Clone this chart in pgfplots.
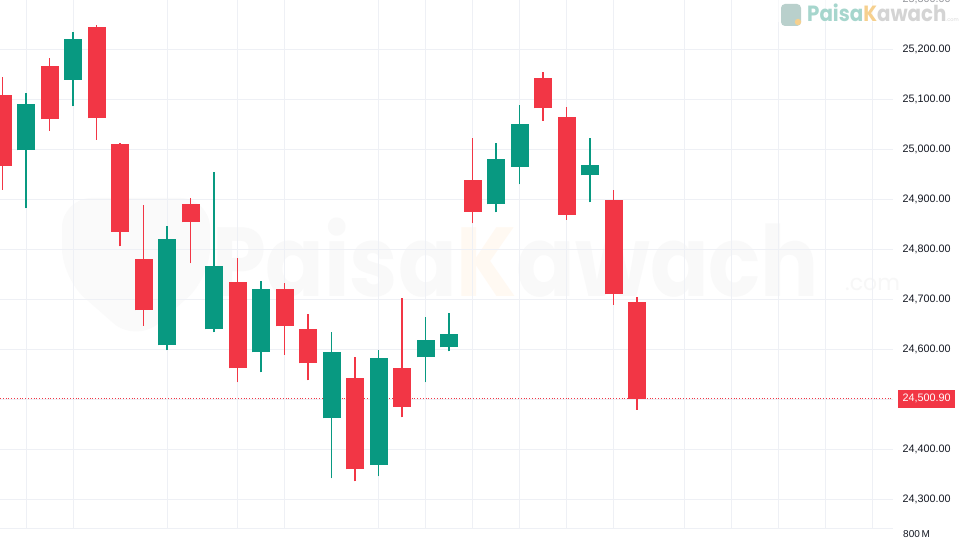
\documentclass[border=0pt]{standalone}
\usepackage{pgfplots}
\pgfplotsset{compat=1.18}
\usepackage{pgfplotstable}
\usepackage{fontspec}
\setmainfont{Liberation Sans}
\newfontfamily\popp{Poppins}
\definecolor{up}{HTML}{089981}
\definecolor{dn}{HTML}{F23645}
\definecolor{gridc}{HTML}{EEF0F5}
\definecolor{txt}{HTML}{131722}
\definecolor{logoteal}{HTML}{A6D6CD}
\definecolor{logoorg}{HTML}{F6D08E}
\definecolor{logoicon}{HTML}{B9D0CC}

% bearish (red) candles
\pgfplotstableread{
x open high low close
0 25107 25144 24918 24966
2 25165 25181 25036 25059
4 25243 25247 25018 25061
5 25009 25011 24805 24834
6 24780 24887 24646 24677
8 24890 24902 24771 24853
10 24733 24781 24533 24561
12 24719 24731 24588 24645
13 24639 24669 24537 24571
15 24541 24583 24335 24359
17 24561 24701 24463 24484
20 24937 25021 24851 24874
23 25141 25153 25056 25081
24 25063 25083 24858 24868
26 24898 24918 24688 24709
27 24694 24703 24478 24500.9
}\dntab

% bullish (green) candles
\pgfplotstableread{
x open high low close
1 24997 25111 24881 25089
3 25138 25234 25085 25220
7 24607 24846 24597 24819
9 24639 24953 24633 24766
11 24593 24735 24553 24720
14 24461 24633 24341 24594
16 24368 24598 24345 24582
18 24583 24663 24533 24617
19 24603 24672 24595 24629
21 24889 25012 24873 24979
22 24964 25088 24929 25049
25 24947 25021 24893 24967
}\uptab

\begin{document}
\begin{tikzpicture}[x=1pt,y=1pt]
% page: x 0..960, y -12..528 (axis box from 0 to 528)
\useasboundingbox (0,-12) rectangle (960,528);
\fill[white] (0,-12) rectangle (960,528);

% faint centre watermark
\fill[black!2, rounded corners=30pt] (62,330) -- (210,330) -- (210,250) -- (136,185) -- (62,250) -- cycle;
\node[anchor=base west, inner sep=0pt, text=black!2.5, xscale=0.88, font={\popp\bfseries\fontsize{98}{98}\selectfont}] at (212,231) {Paisa\textcolor{orange!5}{K}awach};
\node[anchor=base west, inner sep=0pt, text=black!3, font={\popp\fontsize{22}{22}\selectfont}] at (845,237) {.com};

\begin{axis}[
  at={(0pt,0pt)}, anchor=south west,
  scale only axis, width=893pt, height=528pt,
  xmin=-0.1064, xmax=37.894,
  ymin=24242, ymax=25298,
  axis line style={draw=none},
  clip=false,
  xtick={1,3,7,10,12,16,18,20,22,24,26,29,31,33,35,37},
  xticklabels={},
  ytick={24300,24400,...,25300},
  yticklabel pos=right,
  major tick length=0pt,
  grid=major,
  major grid style={draw=gridc, line width=0.9pt},
  scaled y ticks=false,
  yticklabel style={anchor=west, xshift=6pt, text=txt,
    font=\fontsize{10.8}{13}\selectfont,
    /pgf/number format/.cd, fixed, fixed zerofill, precision=2, 1000 sep={,}, assume math mode=true},
]
% bottom separator
\addplot[draw=gridc, line width=0.9pt, forget plot] coordinates {(-0.1064,24242) (37.894,24242)};

% last price line
\addplot[draw=dn, line width=0.7pt, dash pattern=on 0.8pt off 2pt, forget plot] coordinates {(-0.1064,24500.9) (37.894,24500.9)};

% red wicks and bodies
\addplot[forget plot, draw=none, mark=none,
  error bars/.cd, y dir=plus, y explicit, error mark=none,
  error bar style={draw=dn, line width=1.3pt}]
  table[x=x, y=low, y error expr=\thisrow{high}-\thisrow{low}] \dntab;
\addplot[forget plot, draw=none, mark=none,
  error bars/.cd, y dir=plus, y explicit, error mark=none,
  error bar style={draw=dn, line width=18pt}]
  table[x=x, y=close, y error expr=\thisrow{open}-\thisrow{close}] \dntab;

% green wicks and bodies
\addplot[forget plot, draw=none, mark=none,
  error bars/.cd, y dir=plus, y explicit, error mark=none,
  error bar style={draw=up, line width=1.3pt}]
  table[x=x, y=low, y error expr=\thisrow{high}-\thisrow{low}] \uptab;
\addplot[forget plot, draw=none, mark=none,
  error bars/.cd, y dir=plus, y explicit, error mark=none,
  error bar style={draw=up, line width=18pt}]
  table[x=x, y=open, y error expr=\thisrow{close}-\thisrow{open}] \uptab;

% partially visible top tick label
\node[anchor=west, inner sep=0.333em, text=txt, font=\fontsize{10.8}{13}\selectfont, xshift=6pt] at (axis cs:37.894,25300) {25,300.00};

% last price label
\node[fill=dn, text=white, anchor=west, inner xsep=4.5pt, inner ysep=0pt, minimum height=18pt,
  font=\fontsize{10.8}{13}\selectfont, xshift=5pt] at (axis cs:37.894,24500.9) {24,500.90};
\end{axis}

% top-right logo watermark
\fill[white, opacity=0.55] (778,506) rectangle (958,528);
\fill[logoicon, rounded corners=4pt] (781,524) rectangle (801,502);
\fill[logoorg] (798,506) circle (3.2);
\node[anchor=base west, inner sep=0pt, xscale=0.9, font={\popp\bfseries\fontsize{22}{22}\selectfont}] at (807,506)
  {\textcolor{logoteal}{Paisa}\textcolor{logoorg}{K}\textcolor{black!17}{awach}};
\node[anchor=base west, inner sep=0pt, text=black!15, font={\popp\fontsize{5}{5}\selectfont}] at (946,506) {.com};

% volume pane label
\node[anchor=west, inner sep=0pt, text=txt, font=\fontsize{10}{12}\selectfont] at (903,-6) {800\,M};
\end{tikzpicture}
\end{document}
